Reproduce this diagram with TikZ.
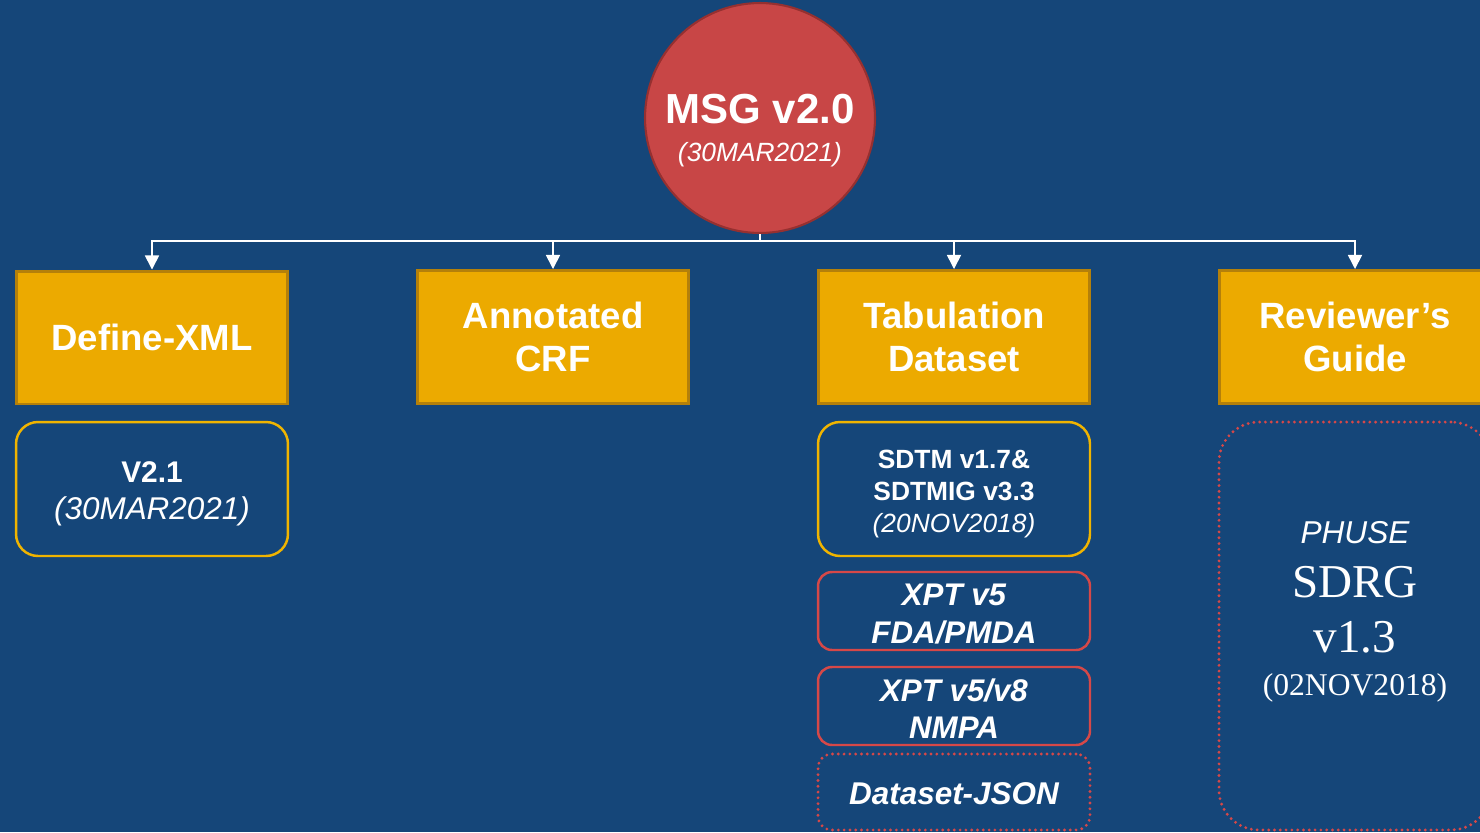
\documentclass[tikz,border=0pt]{standalone}
\usepackage{fontspec}
\setmainfont{Liberation Sans}
\newfontfamily\timesf{Liberation Serif}
\usetikzlibrary{arrows.meta,positioning}
\definecolor{bgblue}{RGB}{21,70,121}
\definecolor{goldfill}{RGB}{236,170,0}
\definecolor{golddraw}{RGB}{180,128,10}
\definecolor{goldline}{RGB}{240,180,0}
\definecolor{redfill}{RGB}{200,70,70}
\definecolor{reddraw}{RGB}{150,48,48}
\definecolor{redline}{RGB}{214,72,72}
\tikzset{
  catbox/.style={rectangle, fill=goldfill, draw=golddraw, line width=1.7pt,
    minimum width=5.44cm, minimum height=2.66cm, text=white, align=center,
    font=\fontsize{20.8}{24.4}\selectfont\bfseries},
  goldround/.style={rectangle, rounded corners=0.44cm, draw=goldline, line width=1.4pt,
    minimum width=5.44cm, minimum height=2.68cm, text=white, align=center},
  redround/.style={rectangle, rounded corners=0.28cm, draw=redline, line width=1.4pt,
    minimum width=5.44cm, minimum height=1.56cm, text=white, align=center,
    font=\fontsize{17.8}{21.2}\selectfont\bfseries\itshape},
  reddot/.style={rectangle, draw=redline, line width=1.8pt, line cap=round,
    dash pattern=on 0pt off 3.3pt, text=white, align=center, minimum width=5.44cm},
  conn/.style={draw=white, line width=0.9pt},
  arr/.style={conn, -{Triangle[width=8pt,length=8pt]}},
  txt/.style={text=white, align=center, inner sep=0pt}
}
\begin{document}
\begin{tikzpicture}[x=0.02cm, y=-0.02cm]
\path[use as bounding box] (0,0) rectangle (1480,832);
\clip (0,0) rectangle (1480,832);
\fill[bgblue] (0,0) rectangle (1480,832);

% root
\node[circle, fill=redfill, draw=reddraw, line width=1.2pt, minimum size=4.6cm, inner sep=0pt] (msg) at (760,118) {};
\node[txt, font=\fontsize{15}{21.6}\selectfont] (msgtxt) at (760,131) {{\fontsize{23.9}{21.6}\selectfont\bfseries MSG v2.0}\\{\itshape (30MAR2021)}};

% categories
\node[catbox] (def) at (152,337.5) {Define-XML};
\node[catbox] (crf) at (553,337) {Annotated\\CRF};
\node[catbox] (tab) at (954,337) {Tabulation\\Dataset};
\node[catbox] (rg) at (1355,337) {Reviewer’s\\Guide};

% connectors
\coordinate (j) at (760,241);
\draw[conn] (msg.south) -- (j);
\draw[arr] (j) -| (def.north);
\draw[arr] (j) -| (crf.north);
\draw[arr] (j) -| (tab.north);
\draw[arr] (j) -| (rg.north);

% detail boxes
\node[goldround] (v21) at (152,489) {};
\node[txt, font=\fontsize{17.9}{21}\selectfont] (v21txt) at (152,494) {{\fontsize{17}{21}\selectfont\bfseries V2.1}\\{\itshape (30MAR2021)}};
\node[goldround] (sdtm) at (954,489) {};
\node[txt, font=\fontsize{15}{18.1}\selectfont] (sdtmtxt) at (954,494) {{\bfseries SDTM v1.7\&}\\{\bfseries SDTMIG v3.3}\\{\itshape (20NOV2018)}};
\node[redround] (xpt5) at (954,611) {};
\node[txt, font=\fontsize{17.8}{21.2}\selectfont\bfseries\itshape] (xpt5txt) at (954,614) {XPT v5\\FDA/PMDA};
\node[redround] (xpt8) at (954,706) {};
\node[txt, font=\fontsize{17.8}{21.2}\selectfont\bfseries\itshape] (xpt8txt) at (954,709) {XPT v5/v8\\NMPA};
\node[reddot, rounded corners=0.28cm, minimum height=1.52cm, font=\fontsize{17.9}{21}\selectfont\bfseries\itshape] (json) at (954,792) {};
\node[txt, font=\fontsize{17.9}{21}\selectfont\bfseries\itshape] (jsontxt) at (954,794) {Dataset-JSON};
\node[reddot, rounded corners=0.8cm, minimum height=8.16cm] (sdrg) at (1355,626) {};
\node[txt, font=\fontsize{18}{24.4}\selectfont] (sdrgtxt) at (1355,612) {{\itshape PHUSE}\\[6.2pt]{\fontsize{26.8}{24.4}\selectfont\timesf SDRG}\\[6.8pt]{\fontsize{26.8}{24.4}\selectfont\timesf v1.3}\\{\timesf (02NOV2018)}};
\end{tikzpicture}
\end{document}
